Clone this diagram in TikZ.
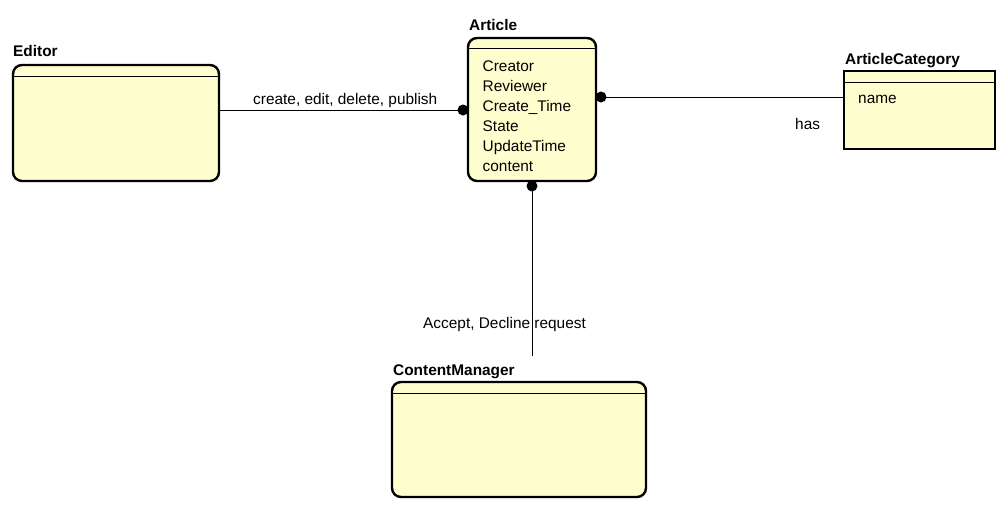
\documentclass[tikz,border=0pt]{standalone}
\usepackage{fontspec}
\setmainfont{Liberation Sans}
\begin{document}
\begin{tikzpicture}[x=1pt,y=-1pt,
  entity/.style={draw=black,line width=2.4pt,fill=entfill,inner sep=0pt,outer sep=0pt,rounded corners=9pt},
  sqentity/.style={draw=black,line width=2.4pt,fill=entfill,inner sep=0pt,outer sep=0pt},
  sep/.style={draw=black,line width=0.9pt},
  conn/.style={draw=black,line width=0.9pt},
  title/.style={anchor=base west,inner sep=0pt,font=\fontsize{15.4}{17}\selectfont\bfseries},
  txt/.style={anchor=base west,inner sep=0pt,font=\fontsize{15.4}{17}\selectfont},
  dot/.style={circle,fill=black,inner sep=0pt,minimum size=11pt}]
\definecolor{entfill}{RGB}{254,254,206}
\useasboundingbox (0,0) rectangle (1008,512);
\fill[white] (0,0) rectangle (1008,512);
% entities
\node[entity,minimum width=206pt,minimum height=116pt] (editor) at (116,123) {};
\node[entity,minimum width=128pt,minimum height=143pt] (article) at (532,109.5) {};
\node[sqentity,minimum width=151pt,minimum height=78pt] (cat) at (919.5,110) {};
\node[entity,minimum width=254pt,minimum height=115pt] (cm) at (519,439.5) {};
% separators
\draw[sep] (14.2,76) -- (217.8,76);
\draw[sep] (469.2,48) -- (594.8,48);
\draw[sep] (845.2,82) -- (993.8,82);
\draw[sep] (393.2,393) -- (644.8,393);
% titles
\node[title] (teditor) at (13,56.5) {Editor};
\node[title] (tarticle) at (469,30.7) {Article};
\node[title] (tcat) at (845,64) {ArticleCategory};
\node[title] (tcm) at (393,375) {ContentManager};
% attributes
\node[txt] (a1) at (482.5,71.7) {Creator};
\node[txt] (a2) at (482.5,91.7) {Reviewer};
\node[txt] (a3) at (482.5,111.7) {Create\_Time};
\node[txt] (a4) at (482.5,131.7) {State};
\node[txt] (a5) at (482.5,151.7) {UpdateTime};
\node[txt] (a6) at (482.5,171.7) {content};
\node[txt] (c1) at (858,103.3) {name};
% connectors
\node[dot] (d1) at (463,110) {};
\node[dot] (d2) at (601,97) {};
\node[dot] (d3) at (532,186) {};
\coordinate (cmend) at (532,356);
\draw[conn] (editor.east |- d1) -- (d1.center);
\draw[conn] (d2.center) -- (cat.west |- d2);
\draw[conn] (d3.center) -- (cmend);
% labels
\node[txt] (l1) at (253,104.5) {create, edit, delete, publish};
\node[txt] (l2) at (795,129) {has};
\node[txt] (l3) at (423,328) {Accept, Decline request};
\end{tikzpicture}
\end{document}
